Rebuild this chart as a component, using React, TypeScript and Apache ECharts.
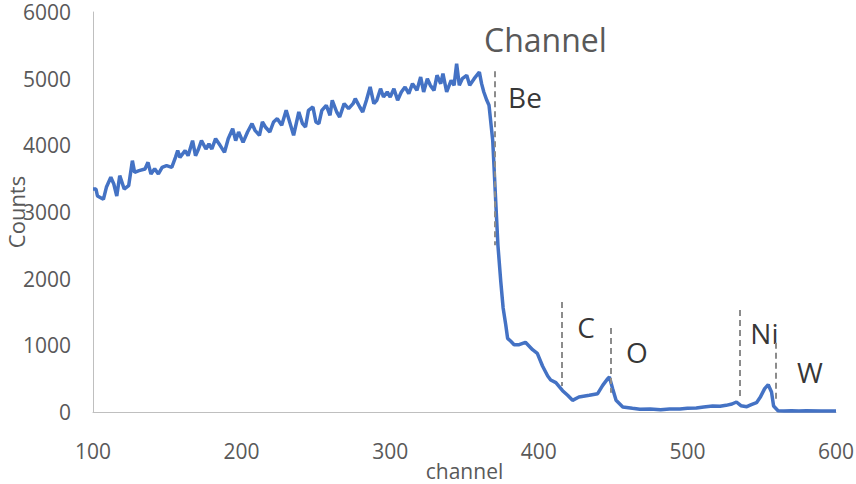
import React, { useEffect, useRef } from "react";
import * as echarts from "echarts";

const channel = [
  100, 102, 103, 107, 109, 112, 114, 116, 118, 121, 124, 126.5, 128, 131, 135, 137, 139, 141.5, 144, 146.5,
  149.5, 153, 155.5, 157, 158.5, 162, 164, 167, 169, 171, 173, 176, 178, 180, 182.5, 185.5, 188.5, 191, 194, 196,
  198, 201, 204, 207, 209, 212, 214, 216, 219, 221.5, 224, 227, 230, 233, 235, 238.5, 241, 243, 245, 248,
  250, 252, 254, 257, 259.5, 261, 264, 266, 269, 272, 275, 276.5, 279.5, 281.5, 284, 286.5, 289, 291, 293.5, 295.5,
  298, 300, 302.5, 305, 307.5, 310, 312.5, 315, 318, 320.5, 322.5, 325, 327, 329.5, 331.5, 334, 335.5, 338, 341, 343,
  344.7, 346.5, 348.5, 351.5, 353.5, 356.5, 360, 361.5, 363, 365, 366.5, 369, 371, 372.5, 374.4, 376, 377.8, 379, 381, 383.4,
  386.8, 391, 395.8, 399, 402.5, 406, 408, 411.5, 416, 419.4, 422.7, 427, 434, 439.6, 443, 446.4, 447.5, 449.7, 452, 456.5,
  463, 468, 475, 482, 488, 495, 500, 506, 511, 517, 522, 526, 530, 533, 536, 540, 543, 546.5, 549, 552,
  554.4, 556.6, 558, 561, 565, 570, 575, 580, 590, 600,
];

const counts = [
  3345, 3345, 3240, 3190, 3370, 3520, 3420, 3240, 3545, 3345, 3395, 3770, 3595, 3620, 3645, 3745, 3570, 3650, 3570, 3670,
  3695, 3670, 3820, 3920, 3820, 3920, 3845, 4070, 3845, 3945, 4070, 3945, 4020, 3945, 4100, 4000, 3895, 4100, 4250, 4070,
  4200, 4045, 4200, 4325, 4225, 4150, 4350, 4275, 4200, 4350, 4400, 4300, 4525, 4300, 4150, 4500, 4325, 4275, 4525, 4575,
  4350, 4325, 4525, 4600, 4450, 4675, 4500, 4425, 4625, 4550, 4625, 4700, 4575, 4500, 4675, 4875, 4625, 4675, 4850, 4725,
  4800, 4725, 4850, 4675, 4800, 4875, 4775, 4925, 4825, 5025, 4800, 5000, 4900, 4825, 5050, 4925, 5075, 4800, 4975, 4900,
  5225, 4900, 5000, 5050, 4900, 5000, 5100, 4925, 4800, 4675, 4600, 4070, 3165, 2500, 1960, 1560, 1300, 1105, 1065, 1010,
  1010, 1045, 935, 880, 690, 540, 480, 440, 320, 250, 175, 225, 250, 275, 400, 500, 525, 350, 175, 75,
  55, 40, 45, 35, 45, 45, 55, 60, 75, 90, 85, 100, 120, 150, 95, 80, 110, 140, 220, 350,
  410, 300, 90, 20, 15, 20, 15, 20, 15, 15,
];

const dashChannel = [370.5, 415.6, 448.4, 535.4, 559.6];
const dashTop = [5110, 1650, 1260, 1530, 1040];
const dashBottom = [2500, 390, 290, 230, 180];

const elementNames = ["Be", "C", "O", "Ni", "W"];
const elementChannel = [390.7, 431.8, 466, 551.8, 582.5];
const elementCounts = [4722, 1278, 902, 1188, 601];

const FONT = "'Open Sans', sans-serif";
const GREY = "#595959";

export default function App() {
  const ref = useRef<HTMLDivElement>(null);
  useEffect(() => {
    if (!ref.current) return;
    const chart = echarts.init(ref.current, undefined, { renderer: "svg" });
    chart.setOption({
      animation: false,
      backgroundColor: "#ffffff",
      title: {
        text: "Channel",
        left: 484,
        top: 23,
        padding: 0,
        textStyle: { fontFamily: FONT, fontSize: 32, fontWeight: "normal", color: GREY },
      },
      grid: {
        left: 93,
        right: 20,
        top: 12,
        bottom: 72,
        containLabel: false,
        outerBoundsMode: "none",
      },
      xAxis: {
        type: "value",
        min: 100,
        max: 600,
        interval: 100,
        name: "channel",
        nameLocation: "middle",
        nameGap: 48,
        nameMoveOverlap: false,
        nameTextStyle: { fontFamily: FONT, fontSize: 21, color: GREY },
        axisLine: { show: true, lineStyle: { color: "#bfbfbf", width: 1 } },
        axisTick: { show: false },
        splitLine: { show: false },
        axisLabel: { fontFamily: FONT, fontSize: 21, color: GREY, margin: 28, formatter: (v: number) => String(v) },
      },
      yAxis: {
        type: "value",
        min: 0,
        max: 6000,
        interval: 1000,
        name: "Counts",
        nameLocation: "middle",
        nameGap: 66,
        nameMoveOverlap: false,
        nameTextStyle: { fontFamily: FONT, fontSize: 22, color: GREY },
        axisLine: { show: true, lineStyle: { color: "#bfbfbf", width: 1 } },
        axisTick: { show: false },
        splitLine: { show: false },
        axisLabel: { fontFamily: FONT, fontSize: 21, color: GREY, margin: 22, formatter: (v: number) => String(v) },
      },
      series: [
        {
          type: "line",
          data: channel.map((c, i) => [c, counts[i]]),
          showSymbol: false,
          symbol: "none",
          lineStyle: { color: "#4472C4", width: 3.5 },
          z: 3,
          markLine: {
            silent: true,
            symbol: "none",
            label: { show: false },
            lineStyle: { color: "#8c8c8c", type: [6, 4], width: 2 },
            data: dashChannel.map((c, i) => [
              { coord: [c, dashTop[i]] },
              { coord: [c, dashBottom[i]] },
            ]),
          },
        },
        {
          type: "scatter",
          symbolSize: 0,
          silent: true,
          data: elementNames.map((n, i) => ({ value: [elementChannel[i], elementCounts[i]], name: n })),
          label: {
            show: true,
            position: "inside",
            formatter: (p: any) => p.name,
            fontFamily: FONT,
            fontSize: 28,
            color: "#000000",
          },
        },
      ],
    });
    return () => chart.dispose();
  }, []);
  return (
    <div
      ref={ref}
      style={{ position: "absolute", left: 0, top: 0, width: 856, height: 484 }}
    />
  );
}
